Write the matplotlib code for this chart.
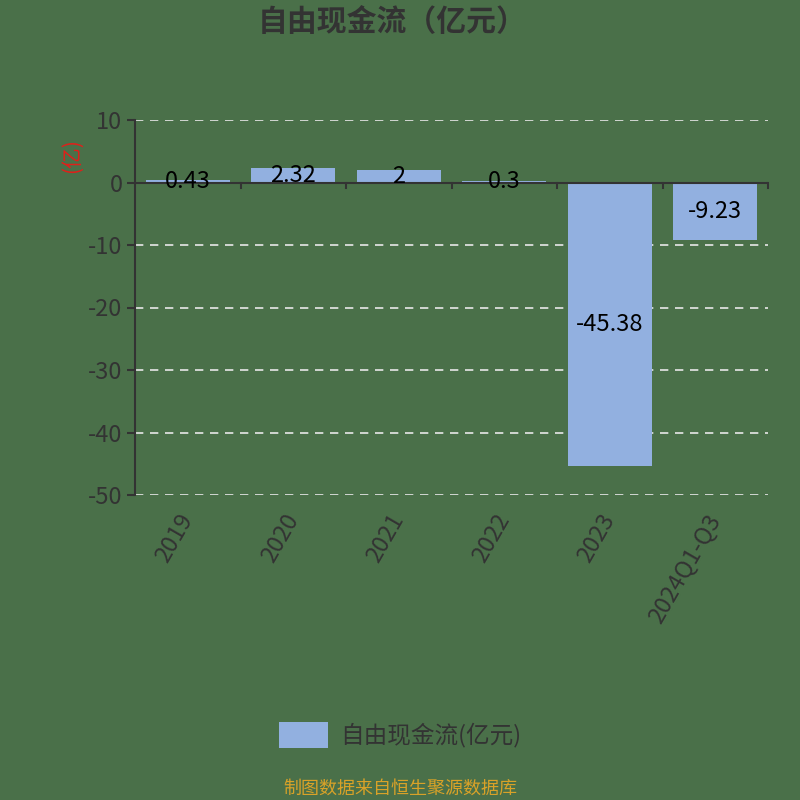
import matplotlib.pyplot as plt
from matplotlib.patches import Patch

plt.rcParams['font.family'] = ['Noto Sans CJK SC', 'DejaVu Sans']

# data
categories = ['2019', '2020', '2021', '2022', '2023', '2024Q1-Q3']
values = [0.43, 2.32, 2, 0.3, -45.38, -9.23]
value_labels = ['0.43', '2.32', '2', '0.3', '-45.38', '-9.23']
yticks = [10, 0, -10, -20, -30, -40, -50]

bg = '#4a7049'
bar_color = '#92b0e0'
axis_color = '#333333'

fig = plt.figure(figsize=(8, 8), dpi=100, facecolor=bg)
ax = fig.add_axes([135 / 800, 1 - 495 / 800, (768 - 135) / 800, (495 - 120) / 800])
ax.set_facecolor(bg)

x = range(len(categories))
ax.bar(x, values, width=0.8, color=bar_color, zorder=2)

for xi, v, lab in zip(x, values, value_labels):
    ax.text(xi, v / 2, lab, ha='center', va='center', fontsize=17,
            color='black', zorder=3)

ax.set_xlim(-0.5, len(categories) - 0.5)
ax.set_ylim(-50, 10)
ax.set_yticks(yticks)
ax.set_yticklabels([str(t) for t in yticks], fontsize=17, color=axis_color)
for t in yticks:
    ax.axhline(t, color='#e8e8e8', linestyle=(0, (5, 4)), linewidth=1.2, zorder=1)

# x axis drawn at zero
ax.spines['top'].set_visible(False)
ax.spines['right'].set_visible(False)
ax.spines['bottom'].set_visible(False)
ax.spines['left'].set_color(axis_color)
ax.spines['left'].set_linewidth(1.5)
ax.axhline(0, color=axis_color, linewidth=1.5, zorder=2.5)
for b in range(1, len(categories) + 1):
    ax.plot([b - 0.5, b - 0.5], [0, -0.9], color=axis_color, linewidth=1.5,
            zorder=2.5, clip_on=False)

ax.tick_params(axis='y', length=6, width=1.5, color=axis_color, pad=3)
ax.set_xticks(list(x))
ax.set_xticklabels(categories, rotation=60, ha='right', va='center',
                   rotation_mode='anchor', fontsize=17, color=axis_color)
ax.tick_params(axis='x', length=0, pad=15)

ax.set_ylabel('(亿)', color='#e0201a', fontsize=15)
ax.yaxis.set_label_coords(-0.082, 0.905)

fig.text(0.49, 1 - 22 / 800, '自由现金流（亿元）', ha='center', va='center',
         fontsize=21.5, fontweight='heavy', color='#333333')

handles = [Patch(facecolor=bar_color, label='自由现金流(亿元)')]
fig.legend(handles=handles, loc='center', bbox_to_anchor=(0.5, 1 - 735 / 800),
           frameon=False, fontsize=17, labelcolor='#333333',
           handlelength=2.1, handleheight=1.3, handletextpad=0.5)

fig.text(0.5, 1 - 789 / 800, '制图数据来自恒生聚源数据库', ha='center', va='center',
         fontsize=13, color='#d9a228')

fig.savefig('out.png', dpi=100, facecolor=bg)
